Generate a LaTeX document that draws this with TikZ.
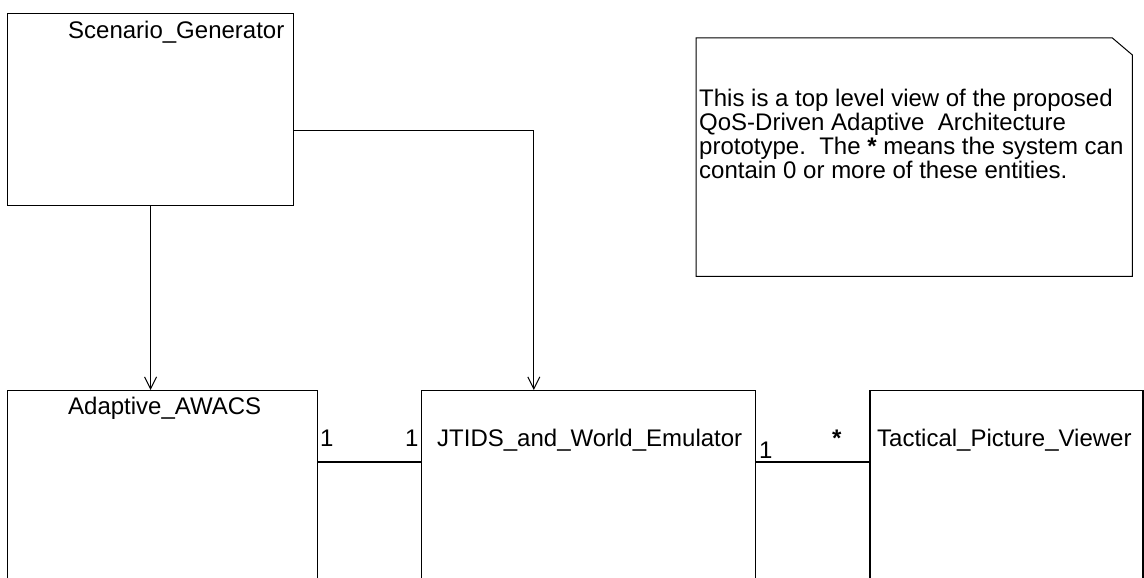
\documentclass[tikz,border=0pt]{standalone}
\usepackage{fontspec}
\setmainfont{Liberation Sans}
\usetikzlibrary{arrows.meta,positioning}
\tikzset{
  cls/.style   = {rectangle, draw=black, line width=1.2pt, inner sep=0pt},
  nte/.style   = {rectangle, inner sep=0pt},
  ntel/.style  = {draw=black, line width=1pt},
  txt/.style   = {font=\fontsize{24}{24}\selectfont, inner sep=0pt},
  nav/.style   = {-{Straight Barb[length=12pt,width=12pt,line width=1pt]}, line width=1.2pt},
  asc/.style   = {line width=1.2pt},
}

\begin{document}
\begin{tikzpicture}[x=1pt, y=-1pt]
  \useasboundingbox (0,0) rectangle (1144,578);
  \clip (0,0) rectangle (1144,578);
  % classes
  \node[cls, anchor=north west, minimum width=286pt, minimum height=192pt] (sg) at (7,13) {};
  \node[cls, anchor=north west, minimum width=310pt, minimum height=250pt] (awacs) at (7,390) {};
  \node[cls, right=103pt of awacs.north east, anchor=north west,
        minimum width=334pt, minimum height=250pt] (jtids) {};
  \node[cls, right=113pt of jtids.north east, anchor=north west,
        minimum width=273pt, minimum height=250pt] (viewer) {};
  \node[txt, anchor=base west] (sgname) at (68,39) {Scenario\_Generator};
  \node[txt, anchor=base west] (awacsname) at (68,414) {Adaptive\_AWACS};
  \node[txt, anchor=base west] (jtidsname) at (437,446) {JTIDS\_and\_World\_Emulator};
  \node[txt, anchor=base west] (viewername) at (877,446) {Tactical\_Picture\_Viewer};
  % note with folded corner
  \node[nte, anchor=north west, minimum width=436pt, minimum height=238pt] (note) at (696,38) {};
  \draw[ntel] (note.north west) -- ([xshift=-20pt]note.north east)
    -- ([yshift=-17pt]note.north east) -- (note.south east) -- (note.south west) -- cycle;
  \node[txt, anchor=north west, align=left] (notetxt) at (699,89)
    {This is a top level view of the proposed\\
     QoS-Driven Adaptive\ \ Architecture\\
     prototype.\ \ The \textbf{*} means the system can\\
     contain 0 or more of these entities.};
  % associations
  \draw[nav] (sg.south) -- (sg.south |- awacs.north);
  \draw[nav] ([yshift=-21pt]sg.east) -| ([xshift=-55pt]jtids.north);
  \draw[asc] ([yshift=-72pt]awacs.north east) -- ([yshift=-72pt]jtids.north west);
  \draw[asc] ([yshift=-72pt]jtids.north east) -- ([yshift=-72pt]viewer.north west);
  % multiplicities
  \node[txt, anchor=base west] (m1) at (320,446) {1};
  \node[txt, anchor=base west] (m2) at (405,446) {1};
  \node[txt, anchor=base west] (m3) at (759,458) {1};
  \node[txt, anchor=base west] (m4) at (832,446) {\textbf{*}};
\end{tikzpicture}
\end{document}
